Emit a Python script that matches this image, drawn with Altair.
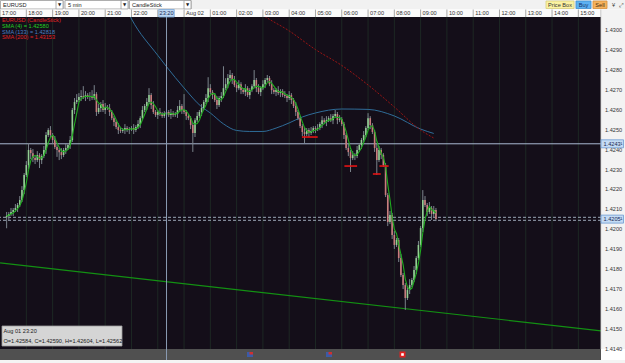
import altair as alt
import pandas as pd

# ---------------- data ----------------
START = "2011-08-01T17:15:00"
FIRST_OPEN = 1.42060

closes = [
    1.42067, 1.42077, 1.42087, 1.42097, 1.42107, 1.42122, 1.42147, 1.42197, 1.42273,
    1.42323, 1.42399, 1.42383, 1.42358, 1.42348, 1.42373, 1.42348, 1.42368, 1.42399, 1.42474, 1.42499, 1.42474,
    1.42449, 1.42414, 1.42399, 1.42388, 1.42373, 1.42399, 1.42409, 1.42424, 1.42449, 1.42600, 1.42640, 1.42650,
    1.42665, 1.42670, 1.42665, 1.42675, 1.42665, 1.42670, 1.42660, 1.42680, 1.42590, 1.42610, 1.42630, 1.42600,
    1.42615, 1.42610, 1.42590, 1.42559, 1.42539, 1.42514, 1.42499, 1.42494, 1.42499, 1.42509, 1.42499, 1.42504,
    1.42509, 1.42499, 1.42514, 1.42529, 1.42559, 1.42600, 1.42620, 1.42640, 1.42675, 1.42625, 1.42590, 1.42575,
    1.42590, 1.42580, 1.42570, 1.42584, 1.42590, 1.42575, 1.42585, 1.42575, 1.42580, 1.42600, 1.42620, 1.42600,
    1.42590, 1.42570, 1.42559, 1.42524, 1.42484, 1.42549, 1.42570, 1.42590, 1.42610, 1.42640, 1.42660, 1.42710,
    1.42690, 1.42675, 1.42650, 1.42625, 1.42660, 1.42670, 1.42710, 1.42730, 1.42761, 1.42776, 1.42751, 1.42725,
    1.42710, 1.42730, 1.42700, 1.42690, 1.42710, 1.42675, 1.42700, 1.42720, 1.42751, 1.42710, 1.42690, 1.42710,
    1.42730, 1.42751, 1.42761, 1.42730, 1.42700, 1.42690, 1.42700, 1.42685, 1.42695, 1.42675, 1.42670, 1.42660,
    1.42675, 1.42650, 1.42620, 1.42590, 1.42559, 1.42519, 1.42489, 1.42479, 1.42499, 1.42484, 1.42494, 1.42509,
    1.42504, 1.42509, 1.42529, 1.42549, 1.42539, 1.42549, 1.42559, 1.42549, 1.42570, 1.42580, 1.42549, 1.42554,
    1.42529, 1.42474, 1.42409, 1.42388, 1.42358, 1.42373, 1.42368, 1.42399, 1.42424, 1.42449, 1.42474, 1.42509,
    1.42559, 1.42524, 1.42489, 1.42409, 1.42348, 1.42399, 1.42373, 1.42323, 1.42172, 1.42036, 1.42072, 1.41971,
    1.41921, 1.41946, 1.41855, 1.41770, 1.41719, 1.41654, 1.41694, 1.41719, 1.41745, 1.41795, 1.41855, 1.41921,
    1.42006, 1.42147, 1.42122, 1.42087, 1.42107, 1.42077, 1.42097, 1.42051,
]

# upper / lower wick lengths beyond the body, in pips
hi_ext = [
    2, 1, 2, 1, 2, 1, 2, 2, 1,
    2, 3.5, 1, 2, 1, 2, 1, 1, 2, 1.5, 1, 2,
    1, 2, 1, 1, 2, 1, 2, 1, 2, 1, 2, 3,
    2, 3, 5, 2, 1, 2, 3, 4.5, 1, 2, 1, 2,
    2, 1, 2, 1, 1, 1, 2, 1, 1, 2, 1, 1,
    1, 2, 1, 2, 1, 2, 1, 2, 3.5, 1, 2, 1,
    1, 2, 1, 1, 1.4, 1, 2, 1, 1, 2, 3, 1,
    8, 1, 1, 1, 1, 1, 2, 1, 2, 1, 2, 5.5,
    2, 1, 1, 2, 1, 2, 11, 3, 2, 2.5, 1, 2,
    1, 2, 1, 1, 2, 1, 1, 1, 5, 1, 2, 1,
    2, 1, 1.5, 1, 2, 1, 1, 2, 1, 1, 2, 1,
    2, 1, 1, 2, 1, 1, 1, 2, 1, 1, 2, 1,
    1, 2, 1, 2, 1, 2, 1, 2, 1, 2, 1, 2,
    1, 1, 1, 2, 1, 2, 1, 2, 1, 1, 2, 1,
    2.5, 1, 1, 1, 2, 2, 1, 1, 1, 1, 2, 1,
    2, 1, 1, 2, 1, 1, 2, 3, 1, 2, 1, 2,
    1, 5, 2, 1, 3, 1, 2, 1,
]
lo_ext = [
    5.5, 2, 1, 2, 1, 2, 1, 1, 2,
    1, 2, 3, 2, 2, 1, 4, 2, 1, 2, 1, 1,
    2, 1, 3.5, 4, 2, 1, 2, 1, 2, 1, 2, 1,
    1, 2, 1, 2, 1, 2, 1, 1, 2, 1, 2, 1,
    2, 1, 2, 1, 2, 1, 2, 1, 1, 2, 1, 2,
    1, 2, 1, 1, 2, 1, 1, 2, 1, 2, 1, 1,
    2, 1, 1, 1, 2.2, 1, 2, 1, 1, 2, 1, 2,
    1, 2, 1, 2, 9.5, 2, 1, 1, 2, 1, 1, 2,
    1, 2, 1, 2, 1, 2, 1, 1, 2, 1, 2, 1,
    2, 1, 2, 1, 2, 1, 2, 1, 1, 2, 1, 2,
    1, 2, 1, 1, 2, 1, 2, 1, 2, 1, 1, 2,
    1, 2, 1, 2, 1, 1, 2, 4.5, 1, 2, 1, 1,
    2, 1, 1, 2, 1, 2, 1, 1, 2, 1, 2, 1,
    1, 2, 1, 2, 7, 1, 2, 1, 1, 2, 1, 1,
    1, 2, 1, 2, 7.5, 1, 2, 1, 1, 2, 1, 2,
    2, 1, 2, 1, 2, 6, 1, 2, 1, 1, 2, 1,
    1, 2, 1, 2, 1, 3, 2, 1,
]

sma133_t = ["2011-08-01T21:45", "2011-08-01T22:00", "2011-08-01T23:00", "2011-08-01T23:20",
            "2011-08-02T00:00", "2011-08-02T00:40", "2011-08-02T01:00", "2011-08-02T01:30",
            "2011-08-02T02:00", "2011-08-02T02:30", "2011-08-02T03:00", "2011-08-02T03:30",
            "2011-08-02T04:00", "2011-08-02T04:30", "2011-08-02T05:00", "2011-08-02T06:00",
            "2011-08-02T07:00", "2011-08-02T08:00", "2011-08-02T09:00", "2011-08-02T09:30"]
sma133_v = [1.43123, 1.43058, 1.42875, 1.42818, 1.42711, 1.42616, 1.42585, 1.42530,
            1.42497, 1.42492, 1.42492, 1.42509, 1.42535, 1.42565, 1.42585, 1.42605,
            1.42603, 1.42570, 1.42504, 1.42482]

sma200_t = ["2011-08-02T02:45", "2011-08-02T03:00", "2011-08-02T04:00", "2011-08-02T05:00",
            "2011-08-02T06:00", "2011-08-02T07:00", "2011-08-02T08:00", "2011-08-02T09:00",
            "2011-08-02T09:30"]
sma200_v = [1.43103, 1.43078, 1.42998, 1.42904, 1.42824, 1.42726, 1.42615, 1.42499, 1.42459]

trend_t = ["2011-08-01T17:00", "2011-08-02T16:00"]
trend_v = [1.41831, 1.41487]

fractal_start = ["2011-08-02T04:29", "2011-08-02T06:06", "2011-08-02T07:11", "2011-08-02T07:26"]
fractal_end = ["2011-08-02T05:05", "2011-08-02T06:35", "2011-08-02T07:29", "2011-08-02T07:47"]
fractal_price = [1.42464, 1.42318, 1.42278, 1.42318]

last_price_line = 1.42430
bid_ask_lines = [1.42060, 1.42045]
crosshair_time = "2011-08-01T23:20"

hour_ticks = ["2011-08-01T17:00", "2011-08-01T18:00", "2011-08-01T19:00", "2011-08-01T20:00",
              "2011-08-01T21:00", "2011-08-01T22:00", "2011-08-01T23:00", "2011-08-02T00:00",
              "2011-08-02T01:00", "2011-08-02T02:00", "2011-08-02T03:00", "2011-08-02T04:00",
              "2011-08-02T05:00", "2011-08-02T06:00", "2011-08-02T07:00", "2011-08-02T08:00",
              "2011-08-02T09:00", "2011-08-02T10:00", "2011-08-02T11:00", "2011-08-02T12:00",
              "2011-08-02T13:00", "2011-08-02T14:00", "2011-08-02T15:00"]
hour_labels = ["17:00", "18:00", "19:00", "20:00", "21:00", "22:00", "", "Aug 02",
               "01:00", "02:00", "03:00", "04:00", "05:00", "06:00", "07:00", "08:00",
               "09:00", "10:00", "11:00", "12:00", "13:00", "14:00", "15:00"]
price_ticks = [1.414, 1.415, 1.416, 1.417, 1.418, 1.419, 1.420, 1.421, 1.422,
               1.423, 1.424, 1.425, 1.426, 1.427, 1.428, 1.429, 1.430]
tag_prices = [1.42430, 1.42051]
tag_labels = ["1.4243\u00b9", "1.4205\u00b9"]

legend_lines = ["EURUSD (CandleStick)", "SMA (4) = 1.42580", "SMA (133) = 1.42818", "SMA (200) = 1.43153"]
legend_colors = ["#e02424", "#22d022", "#4a7ec0", "#e02424"]
info_lines = ["Aug 01  23:20", "O=1.42584, C=1.42590, H=1.42604, L=1.42562"]

# ---------------- tables ----------------
times = pd.date_range(START, periods=len(closes), freq="5min").strftime("%Y-%m-%dT%H:%M:%S")
opens = [FIRST_OPEN] + closes[:-1]
highs = [round(max(o, c) + h * 0.0001, 5) for o, c, h in zip(opens, closes, hi_ext)]
lows = [round(min(o, c) - l * 0.0001, 5) for o, c, l in zip(opens, closes, lo_ext)]
bars = pd.DataFrame({"t": times, "open": opens, "close": closes, "high": highs, "low": lows})

hours_df = pd.DataFrame({"t": hour_ticks, "label": hour_labels})
grid_df = hours_df.iloc[1:]
prices_df = pd.DataFrame({"v": price_ticks})
tags_df = pd.DataFrame({"v": tag_prices, "label": tag_labels})
sma133 = pd.DataFrame({"t": sma133_t, "v": sma133_v})
sma200 = pd.DataFrame({"t": sma200_t, "v": sma200_v})
trend = pd.DataFrame({"t": trend_t, "v": trend_v})
fractals = pd.DataFrame({"t": fractal_start, "t2": fractal_end, "v": fractal_price})
ref_solid = pd.DataFrame({"v": [last_price_line]})
ref_dash = pd.DataFrame({"v": bid_ask_lines})
cross = pd.DataFrame({"t": [crosshair_time], "label": ["23:20"]})
ui = pd.DataFrame({"k": [0]})

# ---------------- scales ----------------
FONT = "Liberation Sans, Arial, sans-serif"
FS = 5.6
xs = alt.Scale(domain=[alt.DateTime(year=2011, month=8, date=1, hours=17, minutes=11, seconds=17),
                       alt.DateTime(year=2011, month=8, date=2, hours=15, minutes=40, seconds=20)])
ys = alt.Scale(domain=[1.413975, 1.430679], zero=False, nice=False)


def X(f="t"):
    return alt.X(f"{f}:T", scale=xs, axis=None)


def Y(f="v"):
    return alt.Y(f"{f}:Q", scale=ys, axis=None)


# ---------------- data layers ----------------
grid = alt.Chart(grid_df).mark_rule(color="#1d2824", strokeWidth=1).encode(x=X())
solid = alt.Chart(ref_solid).mark_rule(color="#a9b9d2", strokeWidth=1).encode(y=Y())
dash = alt.Chart(ref_dash).mark_rule(color="#9aa6b6", strokeWidth=1, strokeDash=[3, 2]).encode(y=Y())
trend_l = alt.Chart(trend).mark_line(color="#139013", strokeWidth=1.2, clip=True).encode(x=X(), y=Y())
sma133_l = alt.Chart(sma133).mark_line(color="#2f6c98", strokeWidth=1, interpolate="monotone",
                                       clip=True).encode(x=X(), y=Y())
sma200_l = alt.Chart(sma200).mark_line(color="#9a1414", strokeWidth=1, strokeDash=[2, 1.5],
                                       interpolate="monotone", clip=True).encode(x=X(), y=Y())

up_col, dn_col = "#93cf93", "#c97d7d"
wicks = alt.Chart(bars).mark_rule(color="#7b848c", strokeWidth=1, clip=True).encode(
    x=X(), y=Y("low"), y2="high:Q")
bodies = alt.Chart(bars).mark_bar(size=1.6, clip=True).encode(
    x=X(), y=Y("open"), y2="close:Q",
    color=alt.condition("datum.close >= datum.open", alt.value(up_col), alt.value(dn_col)))
sma4 = alt.Chart(bars).transform_window(sma="mean(close)", frame=[-3, 0]).mark_line(
    color="#1fae1f", strokeWidth=1.1, clip=True).encode(x=X(), y=Y("sma"))
frac = alt.Chart(fractals).mark_rule(color="#e41414", strokeWidth=1.6, clip=True).encode(
    x=X(), x2="t2:T", y=Y())


# ---------------- interface chrome ----------------
def rect(x1, x2, y1, y2, fill, stroke=None):
    kw = {"fill": fill}
    if stroke:
        kw.update(stroke=stroke, strokeWidth=0.8)
    return alt.Chart(ui).mark_rect(**kw).encode(
        x=alt.value(x1), x2=alt.value(x2), y=alt.value(y1), y2=alt.value(y2))


def text(s, x, y, color="#222222", size=FS, align="left", font=FONT):
    return alt.Chart(ui).mark_text(text=s, align=align, baseline="middle", font=font,
                                   fontSize=size, color=color).encode(x=alt.value(x), y=alt.value(y))


chrome = [
    rect(0, 625, -17, -7.5, "#f1f1f1"),
    rect(0.5, 63, -16.5, -8, "#ffffff", "#9a9a9a"), rect(56, 63, -16.5, -8, "#ffffff", "#9a9a9a"),
    rect(65, 128, -16.5, -8, "#ffffff", "#9a9a9a"), rect(121, 128, -16.5, -8, "#ffffff", "#9a9a9a"),
    rect(129.5, 191, -16.5, -8, "#ffffff", "#9a9a9a"), rect(184, 191, -16.5, -8, "#ffffff", "#9a9a9a"),
    rect(546, 574, -16, -8.5, "#fbf2a2", "#d9cf7c"),
    rect(576, 591, -16, -8.5, "#5db1f2", "#3d8fd0"),
    rect(593, 607, -16, -8.5, "#f6b35e", "#d88f3a"),
    rect(0, 601, -7.5, 0, "#fbfbfb"),
    rect(601, 625, -7.5, 332, "#f3f3f3"),
    rect(600.5, 601.2, -7.5, 332, "#b4b4b4"),
    rect(0, 601, 332, 343, "#505050"),
    rect(0, 625, 343, 346, "#f4f4f4"),
    rect(247, 253, 335, 340, "#3b5ba8"), rect(249.5, 253, 335, 337.5, "#d03030"),
    rect(326, 332, 335, 340, "#3b5ba8"), rect(328.5, 332, 335, 337.5, "#d03030"),
    rect(399.5, 405.5, 334.5, 340.5, "#e42020"), rect(401.2, 403.8, 336.2, 338.8, "#ffffff"),
    rect(2, 122, 309, 329, "#d5d5d5", "#9c9c9c"),
]

# time scale labels (top strip) and price labels (right column), placed through the scales
hour_sep = alt.Chart(hours_df).mark_rule(color="#a8a8a8", strokeWidth=1).encode(
    x=X(), y=alt.value(-7.5), y2=alt.value(0))
hour_txt = alt.Chart(hours_df).mark_text(align="left", baseline="middle", dx=2, font=FONT,
                                          fontSize=FS, color="#333333").encode(
    x=X(), y=alt.value(-3.6), text="label:N")
price_txt = alt.Chart(prices_df).mark_text(align="left", baseline="middle", font=FONT,
                                            fontSize=FS, color="#333333").encode(
    x=alt.value(605), y=Y(), text=alt.Text("v:Q", format=".4f"))
tag_box = alt.Chart(tags_df).mark_rect(fill="#c4dbf4", stroke="#6d9bd2", strokeWidth=0.8, height=8).encode(
    x=alt.value(601), x2=alt.value(623.5), y=Y())
tag_txt = alt.Chart(tags_df).mark_text(align="left", baseline="middle", font=FONT,
                                        fontSize=FS, color="#1a2a55").encode(
    x=alt.value(603.5), y=Y(), text="label:N")

cross_l = alt.Chart(cross).mark_rule(color="#8b9bb3", strokeWidth=1).encode(
    x=X(), y=alt.value(0), y2=alt.value(343))
cross_box = alt.Chart(cross).mark_rect(fill="#bcd6f2", stroke="#7aa6d6", strokeWidth=0.8, width=15.5).encode(
    x=X(), y=alt.value(-7.5), y2=alt.value(0))
cross_txt = alt.Chart(cross).mark_text(align="center", baseline="middle", font=FONT, fontSize=FS,
                                       color="#1a2a55").encode(x=X(), y=alt.value(-3.6), text="label:N")

labels = [
    text("EURUSD", 3, -12.2), text("5 min", 68, -12.2), text("CandleStick", 132, -12.2),
    text("\u25bc", 59.5, -12.2, "#222222", 4.2, "center", "DejaVu Sans"),
    text("\u25bc", 124.5, -12.2, "#222222", 4.2, "center", "DejaVu Sans"),
    text("\u25bc", 187.5, -12.2, "#222222", 4.2, "center", "DejaVu Sans"),
    text("Price Box", 560, -12.2, "#333333", FS, "center"),
    text("Buy", 583.5, -12.2, "#12306a", FS, "center"),
    text("Sell", 600, -12.2, "#4a2a08", FS, "center"),
    text("\u00a5", 613.5, -12.2, "#333333", FS, "center"),
    text("\u2922", 621, -12.2, "#333333", FS, "center", "DejaVu Sans"),
    text(legend_lines[0], 2, 3, legend_colors[0]),
    text(legend_lines[1], 2, 8.8, legend_colors[1]),
    text(legend_lines[2], 2, 14.5, legend_colors[2]),
    text(legend_lines[3], 2, 20.2, legend_colors[3]),
    text(info_lines[0], 3.5, 314, "#222222"),
    text(info_lines[1], 3.5, 324.3, "#222222"),
]

chart = alt.layer(
    grid, solid, dash, trend_l, sma133_l, sma200_l, wicks, bodies, sma4, frac,
    *chrome, hour_sep, hour_txt, price_txt, tag_box, tag_txt,
    cross_l, cross_box, cross_txt, *labels
).properties(
    width=601, height=332,
    autosize=alt.AutoSizeParams(type="none"),
    padding={"left": 0, "top": 17, "right": 24, "bottom": 14},
    background="#ffffff",
).configure_view(fill="#140e19", stroke=None)

chart.save("out.html", embed_options={"renderer": "svg", "actions": False})
